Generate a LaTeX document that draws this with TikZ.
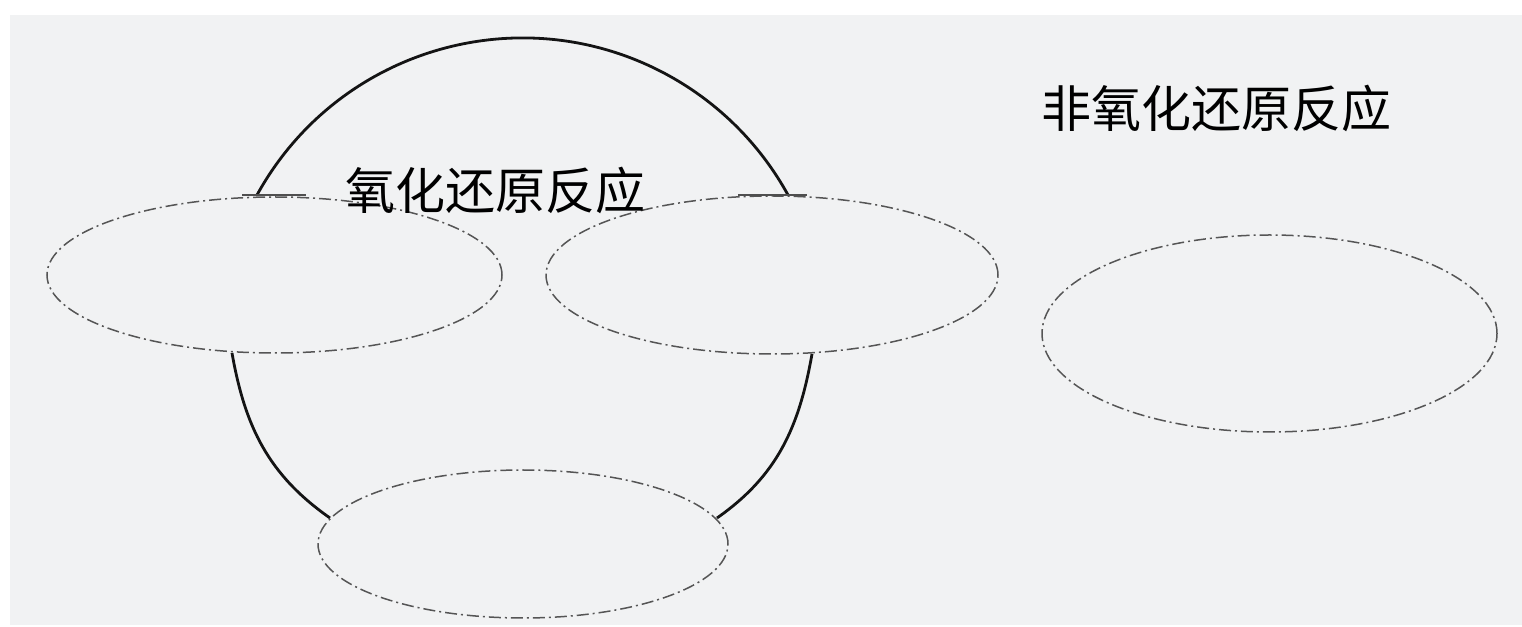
\documentclass[tikz,border=0pt]{standalone}
\usepackage{fontspec}
\newfontfamily\cjk{Noto Sans CJK SC}
\usetikzlibrary{shapes.geometric}
\definecolor{bgcol}{HTML}{F1F2F3}
\definecolor{ringcol}{HTML}{141414}
\definecolor{dashcol}{HTML}{555555}
\tikzset{
  ring/.style={draw=ringcol, line width=2.8pt},
  foot/.style={draw=ringcol!75!white, line width=2.4pt},
  oval/.style={ellipse, draw=dashcol, line width=1.5pt,
    dash pattern=on 12pt off 4pt on 2pt off 4pt, inner sep=0pt},
  label/.style={font=\cjk\fontsize{50}{60}\selectfont, inner sep=0pt, text=black}
}
\begin{document}
\begin{tikzpicture}[x=1pt,y=1pt]
\useasboundingbox (0,0) rectangle (1522,626);
\fill[white] (0,0) rectangle (1522,626);
\fill[bgcol] (10,1) rectangle (1522,611);

% ellipses
\node[oval, minimum width=455pt, minimum height=156pt] (L) at (274.5,351) {};
\node[oval, minimum width=452pt, minimum height=158pt] (M) at (772,351) {};
\node[oval, minimum width=410pt, minimum height=148pt] (B) at (523,82) {};
\node[oval, minimum width=455pt, minimum height=197pt] (R) at (1269.5,292.5) {};

% connection points of the ring
\coordinate (tl) at (257,431);
\coordinate (tr) at (787.5,431);
\coordinate (bl) at (232,273);
\coordinate (br) at (812,272);
\coordinate (dl) at (330,108);
\coordinate (dr) at (717,108);

% ring
\draw[ring] (tl) arc[start angle=151.2, end angle=28.8, radius=303];
\draw[ring] (bl) to[out=-80,in=145] (dl);
\draw[ring] (br) to[out=-100,in=35] (dr);
\draw[foot] (242,431) -- (306,431);
\draw[foot] (738,431) -- (807,431);

% labels
\node[label] (redox) at (495,435.5) {氧化还原反应};
\node[label] (nonredox) at (1216,518) {非氧化还原反应};
\end{tikzpicture}
\end{document}
